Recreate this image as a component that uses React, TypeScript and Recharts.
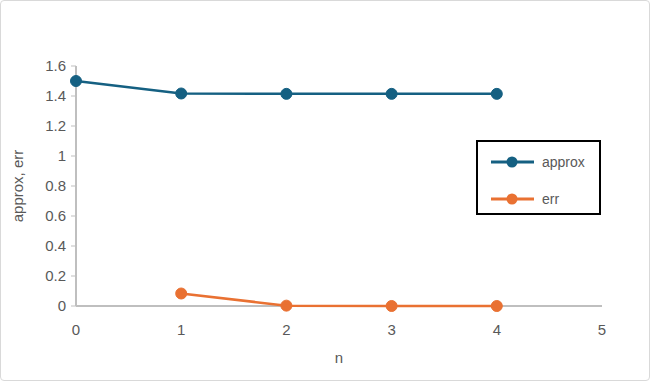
import { LineChart, Line, XAxis, YAxis } from 'recharts'

const nValues = [0, 1, 2, 3, 4]
const approxValues = [1.5, 1.41667, 1.41422, 1.41421, 1.41421]
const errValues = [null, 0.0833, 0.00245, 0.0000021, 0]
const xTicks = [0, 1, 2, 3, 4, 5]
const yTicks = [0, 0.2, 0.4, 0.6, 0.8, 1, 1.2, 1.4, 1.6]

const data = nValues.map((n, i) => ({ n, approx: approxValues[i], err: errValues[i] }))

const APPROX = '#156082'
const ERR = '#e97132'
const TEXT = '#595959'
const AXIS = '#bfbfbf'
const FONT = '"Liberation Sans", Arial, sans-serif'

const legendItems = [
  { name: 'approx', color: APPROX },
  { name: 'err', color: ERR },
]

function LegendBox() {
  return (
    <div
      style={{
        position: 'absolute',
        left: 476,
        top: 140,
        width: 125,
        height: 75,
        border: '2px solid #000',
        boxSizing: 'border-box',
        background: '#fff',
        paddingLeft: 13,
        paddingTop: 7,
      }}
    >
      {legendItems.map((it) => (
        <div key={it.name} style={{ display: 'flex', alignItems: 'center', height: 25, marginBottom: 12, fontFamily: FONT, fontSize: 14, color: TEXT }}>
          <svg width={43} height={12} style={{ marginRight: 8 }}>
            <line x1={0} y1={6} x2={43} y2={6} stroke={it.color} strokeWidth={3} />
            <circle cx={21} cy={6} r={5.5} fill={it.color} />
          </svg>
          {it.name}
        </div>
      ))}
    </div>
  )
}

export default function App() {
  return (
    <div style={{ position: 'absolute', left: 0, top: 0, width: 650, height: 381, background: '#fff' }}>
      <div
        style={{
          position: 'absolute',
          left: 0,
          top: 0,
          width: 648,
          height: 379,
          border: '1px solid #d9d9d9',
          borderRadius: 4,
        }}
      />
      <LineChart width={650} height={381} data={data} margin={{ top: 66, right: 48, left: 16, bottom: 15 }}>
        <XAxis
          type="number"
          dataKey="n"
          domain={[0, 5]}
          ticks={xTicks}
          tickLine={false}
          axisLine={{ stroke: AXIS, strokeWidth: 2 }}
          tick={{ fill: TEXT, fontSize: 15, fontFamily: FONT }}
          tickMargin={12}
          height={60}
          label={{ value: 'n', position: 'insideBottom', offset: 3, fill: TEXT, fontSize: 15, fontFamily: FONT }}
        />
        <YAxis
          type="number"
          domain={[0, 1.6]}
          ticks={yTicks}
          tickLine={{ stroke: AXIS }}
          tickSize={5}
          axisLine={{ stroke: AXIS, strokeWidth: 2 }}
          tick={{ fill: TEXT, fontSize: 15, fontFamily: FONT }}
          tickMargin={5}
          width={60}
          label={{ value: 'approx, err', angle: -90, position: 'insideLeft', offset: 0, dx: 2, fill: TEXT, fontSize: 15, fontFamily: FONT, style: { textAnchor: 'middle' } }}
        />
        <Line
          type="linear"
          dataKey="approx"
          stroke={APPROX}
          strokeWidth={2.5}
          dot={{ r: 5.5, fill: APPROX, stroke: APPROX, strokeWidth: 1 }}
          isAnimationActive={false}
          zIndex={600}
        />
        <Line
          type="linear"
          dataKey="err"
          stroke={ERR}
          strokeWidth={2.5}
          dot={{ r: 5.5, fill: ERR, stroke: ERR, strokeWidth: 1 }}
          isAnimationActive={false}
          zIndex={600}
        />
      </LineChart>
      <LegendBox />
    </div>
  )
}
